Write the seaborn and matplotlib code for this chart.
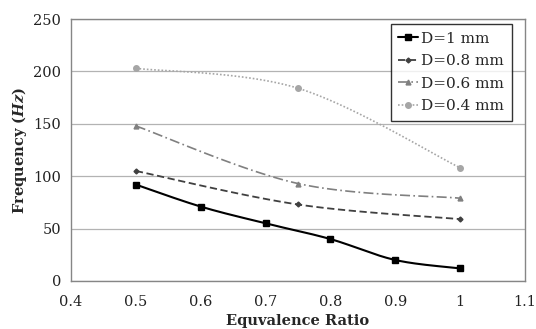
import numpy as np
import pandas as pd
import matplotlib
matplotlib.use("Agg")
import matplotlib.pyplot as plt
import seaborn as sns
from matplotlib.lines import Line2D

# Data
x_d1 = [0.5, 0.6, 0.7, 0.8, 0.9, 1.0]
y_d1 = [92, 71, 55, 40, 20, 12]
x_other = [0.5, 0.75, 1.0]
y_d08 = [105, 73, 59]
y_d06 = [148, 93, 79]
y_d04 = [203, 184, 108]
labels = ["D=1 mm", "D=0.8 mm", "D=0.6 mm", "D=0.4 mm"]
xticks = [0.4, 0.5, 0.6, 0.7, 0.8, 0.9, 1.0, 1.1]
xticklabels = ["0.4", "0.5", "0.6", "0.7", "0.8", "0.9", "1", "1.1"]
yticks = [0, 50, 100, 150, 200, 250]


def smooth(xs, ys, n=30):
    """Catmull-Rom style smoothing (like spreadsheet smoothed lines)."""
    xs = np.asarray(xs, float); ys = np.asarray(ys, float)
    px = np.concatenate([[xs[0]], xs, [xs[-1]]])
    py = np.concatenate([[ys[0]], ys, [ys[-1]]])
    ox, oy = [], []
    t = np.linspace(0, 1, n)
    for i in range(1, len(px) - 2):
        p0 = np.array([px[i - 1], py[i - 1]]); p1 = np.array([px[i], py[i]])
        p2 = np.array([px[i + 1], py[i + 1]]); p3 = np.array([px[i + 2], py[i + 2]])
        c1 = p1 + (p2 - p0) / 6.0
        c2 = p2 - (p3 - p1) / 6.0
        b = ((1 - t) ** 3)[:, None] * p1 + (3 * (1 - t) ** 2 * t)[:, None] * c1 \
            + (3 * (1 - t) * t ** 2)[:, None] * c2 + (t ** 3)[:, None] * p2
        ox.extend(b[:, 0]); oy.extend(b[:, 1])
    return np.array(ox), np.array(oy)


sns.set_theme(style="white")
plt.rcParams["font.family"] = ["DejaVu Serif"]
plt.rcParams["mathtext.fontset"] = "custom"
plt.rcParams["mathtext.it"] = "DejaVu Serif:bold:italic"
plt.rcParams["mathtext.rm"] = "DejaVu Serif:bold"

fig = plt.figure(figsize=(5.36, 3.29), dpi=100)
ax = fig.add_axes([0.1325, 0.146, 0.847, 0.796])

series = [
    (x_d1, y_d1, "#000000", "-", "s", 5, 1.5),
    (x_other, y_d08, "#404040", (0, (4, 2)), "D", 2.5, 1.3),
    (x_other, y_d06, "#808080", (0, (6, 2, 1, 2)), "^", 3.5, 1.2),
    (x_other, y_d04, "#a6a6a6", (0, (1, 1.2)), "o", 4, 1.2),
]
handles = []
for (xs, ys, c, ls, mk, ms, lw), lab in zip(series, labels):
    sx, sy = smooth(xs, ys)
    df = pd.DataFrame({"x": sx, "y": sy})
    sns.lineplot(data=df, x="x", y="y", sort=False, color=c, linestyle=ls,
                 linewidth=lw, ax=ax, estimator=None)
    ax.plot(xs, ys, linestyle="none", marker=mk, markersize=ms, color=c, zorder=5)
    handles.append(Line2D([0], [0], color=c, linestyle=ls, linewidth=lw,
                          marker=mk, markersize=ms))

ax.set_xlim(0.4, 1.1)
ax.set_ylim(0, 250)
ax.set_xticks(xticks)
ax.set_xticklabels(xticklabels)
ax.set_yticks(yticks)
ax.yaxis.grid(True, color="#b3b3b3", linewidth=0.9)
ax.set_axisbelow(True)
for s in ax.spines.values():
    s.set_color("#868686")
    s.set_linewidth(1.0)
ax.tick_params(axis="both", labelsize=10.5, colors="#222222", direction="out",
               length=3, width=0.8, color="#868686")
ax.tick_params(axis="x", pad=7)
ax.tick_params(axis="y", pad=4)

ax.set_xlabel("Equvalence Ratio", fontsize=10.5, fontweight="bold", labelpad=4)
ax.set_ylabel(r"Frequency ($Hz$)", fontsize=10.5, fontweight="bold", labelpad=3)

leg = ax.legend(handles, labels, loc="upper right", bbox_to_anchor=(0.971, 0.981),
                fontsize=11, frameon=True, fancybox=False, handlelength=1.3,
                handletextpad=0.2, labelspacing=0.55, borderpad=0.5,
                borderaxespad=0.0)
leg.get_frame().set_edgecolor("#000000")
leg.get_frame().set_linewidth(1.0)

fig.savefig("out.png", dpi=100)
